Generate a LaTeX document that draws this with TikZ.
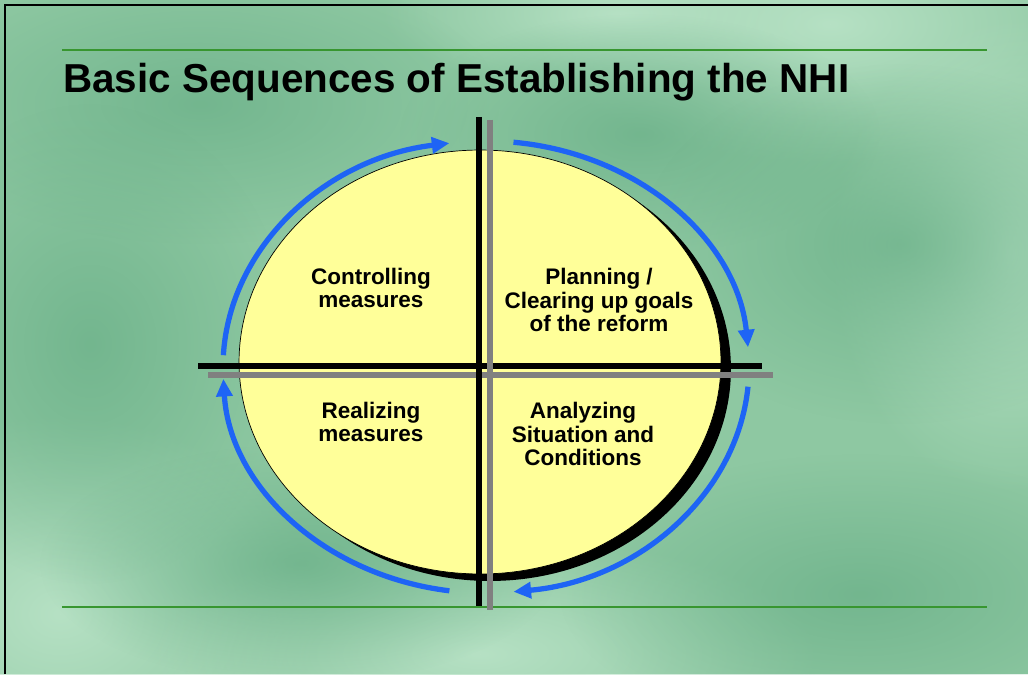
\documentclass[tikz,border=0pt]{standalone}
\usepackage{fontspec}
\setmainfont{Liberation Sans}
\usetikzlibrary{shapes.geometric,shadows,arrows.meta,fadings}

\definecolor{bggreen}{RGB}{142,200,162}
\definecolor{palegreen}{RGB}{182,225,196}
\definecolor{deepgreen}{RGB}{106,176,136}
\definecolor{rulegreen}{RGB}{56,150,48}
\definecolor{paleyellow}{RGB}{255,255,153}
\definecolor{cycleblue}{RGB}{30,100,245}
\tikzfading[name=blob, inner color=transparent!0, outer color=transparent!100]

\begin{document}
\begin{tikzpicture}[x=0.02cm, y=0.02cm,
        quarter/.style={font=\bfseries\fontsize{12.8}{13.6}\selectfont, align=center},
        rule/.style={rulegreen, line width=1.6pt},
        blackbar/.style={black, line width=3.4pt},
        graybar/.style={gray, line width=3.4pt},
        cyclearrow/.style={cycleblue, line width=3pt, -{Triangle[length=10pt, width=9pt]}}]
        \useasboundingbox (0,0) rectangle (1028,674);
        % background
        \fill[bggreen] (0,0) rectangle (1028,674);
        \foreach \cx/\cy/\rx/\ry in {830/650/300/140, 60/60/260/200, 480/20/340/120, 1010/420/180/240, 620/660/240/80}
            \fill[palegreen, path fading=blob] (\cx,\cy) ellipse [x radius=\rx, y radius=\ry];
        \foreach \cx/\cy/\rx/\ry in {200/570/300/140, 640/540/240/120, 900/430/260/180, 90/330/200/240, 860/80/300/140, 300/110/260/120}
            \fill[deepgreen, opacity=0.75, path fading=blob] (\cx,\cy) ellipse [x radius=\rx, y radius=\ry];
        \draw[line width=1.2pt] (5,0) |- (1028,669);

        \node[anchor=base west, inner sep=0, font=\bfseries\fontsize{23}{27}\selectfont] (title) at (63,582) {Basic Sequences of Establishing the NHI};
        \coordinate (ruletopl) at (62,624);
        \coordinate (ruletopr) at (987,624);
        \coordinate (rulebotl) at (62,67);
        \coordinate (rulebotr) at (987,67);
        \draw[rule] (ruletopl) -- (ruletopr);
        \draw[rule] (rulebotl) -- (rulebotr);

        \node[ellipse, draw, thin, fill=paleyellow, inner sep=0, minimum width=9.64cm, minimum height=8.48cm,
            drop shadow={shadow xshift=0.2cm, shadow yshift=-0.14cm, fill=black, opacity=1}] (cycle) at (480,312) {};

        \coordinate (hleft) at (198,308);
        \coordinate (hright) at (762,308);
        \coordinate (gleft) at (208,299);
        \coordinate (gright) at (773,299);
        \coordinate (vtop) at (479,557);
        \coordinate (vbot) at (479,68);
        \coordinate (gtop) at (490,554);
        \coordinate (gbot) at (490,64);
        \draw[blackbar] (hleft) -- (hright);
        \draw[graybar] (gleft) -- (gright);
        \draw[blackbar] (vtop) -- (vbot);
        \draw[graybar] (gtop) -- (gbot);

        \node[quarter] (controlling) at (371,386) {Controlling\\measures};
        \node[quarter] (planning) at (599,374) {Planning /\\Clearing up goals\\of the reform};
        \node[quarter] (realizing) at (371,252) {Realizing\\measures};
        \node[quarter] (analyzing) at (583,240) {Analyzing\\Situation and\\Conditions};

        % arrows round the cycle
        \coordinate (hub) at (486,307);
        \draw[cyclearrow] ([shift={(177:263 and 226)}]hub) arc[start angle=177, end angle=98, x radius=263, y radius=226];
        \draw[cyclearrow] ([shift={(84:263 and 226)}]hub) arc[start angle=84, end angle=5, x radius=263, y radius=226];
        \draw[cyclearrow] ([shift={(-5:263 and 226)}]hub) arc[start angle=-5, end angle=-84, x radius=263, y radius=226];
        \draw[cyclearrow] ([shift={(-98:263 and 226)}]hub) arc[start angle=-98, end angle=-177, x radius=263, y radius=226];
    \end{tikzpicture}
\end{document}
